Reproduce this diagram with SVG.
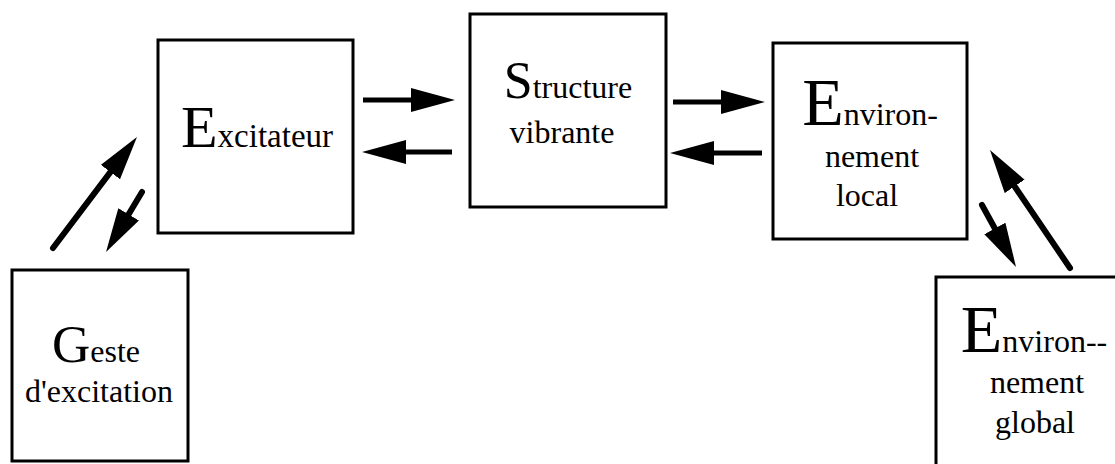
<svg xmlns="http://www.w3.org/2000/svg" width="1115" height="464" viewBox="0 0 1115 464">
<style>
.box{fill:#fff;stroke:#000;stroke-width:3}
.t{font-family:"Liberation Serif","Times New Roman",serif;fill:#000;text-anchor:middle;font-size:32px}
.big{font-size:60px}
.shaft{stroke:#000;stroke-width:5;fill:none;marker-end:url(#ah)}
.diag{stroke-width:6;stroke-linecap:round}
</style>
<defs>
<marker id="ah" markerUnits="userSpaceOnUse" viewBox="0 0 44 24" markerWidth="44" markerHeight="24" refX="24" refY="12" orient="auto">
<path d="M0,0 L44,12 L0,24 Z" fill="#000"/>
</marker>
</defs>
<rect width="1115" height="464" fill="#fff"/>
<g id="excitateur">
<rect class="box" x="158" y="40" width="195" height="193"/>
<text class="t" x="257" y="147"><tspan class="big">E</tspan><tspan font-size="33">xcitateur</tspan></text>
</g>
<g id="structure">
<rect class="box" x="470" y="14" width="196" height="193"/>
<text class="t" x="568" y="98" font-size="34"><tspan font-size="52">S</tspan>tructure</text>
<text class="t" x="562" y="143" font-size="34">vibrante</text>
</g>
<g id="env-local">
<rect class="box" x="773" y="43" width="194" height="196"/>
<text class="t" x="870" y="125"><tspan font-size="68">E</tspan>nviron-</text>
<text class="t" x="872" y="167">nement</text>
<text class="t" x="867" y="206">local</text>
</g>
<g id="geste">
<rect class="box" x="12" y="270" width="176" height="191"/>
<text class="t" x="96" y="362" font-size="34"><tspan font-size="53">G</tspan>este</text>
<text class="t" x="99" y="402">d'excitation</text>
</g>
<g id="env-global">
<rect class="box" x="936" y="277" width="220" height="220"/>
<text class="t" x="1034" y="352"><tspan font-size="68">E</tspan>nviron--</text>
<text class="t" x="1037" y="393">nement</text>
<text class="t" x="1035" y="433">global</text>
</g>
<g id="connectors">
<line class="shaft" x1="363" y1="100" x2="435" y2="100"/>
<line class="shaft" x1="452" y1="152" x2="382" y2="152"/>
<line class="shaft" x1="673" y1="102" x2="745" y2="102"/>
<line class="shaft" x1="762" y1="153" x2="690" y2="153"/>
<line class="shaft diag" x1="53" y1="248" x2="124.9" y2="152.9"/>
<line class="shaft diag" x1="142" y1="192" x2="116.3" y2="234.9"/>
<line class="shaft diag" x1="982" y1="205" x2="1006.4" y2="249.5"/>
<line class="shaft diag" x1="1070" y1="268" x2="1001.2" y2="166.5"/>
</g>
</svg>
